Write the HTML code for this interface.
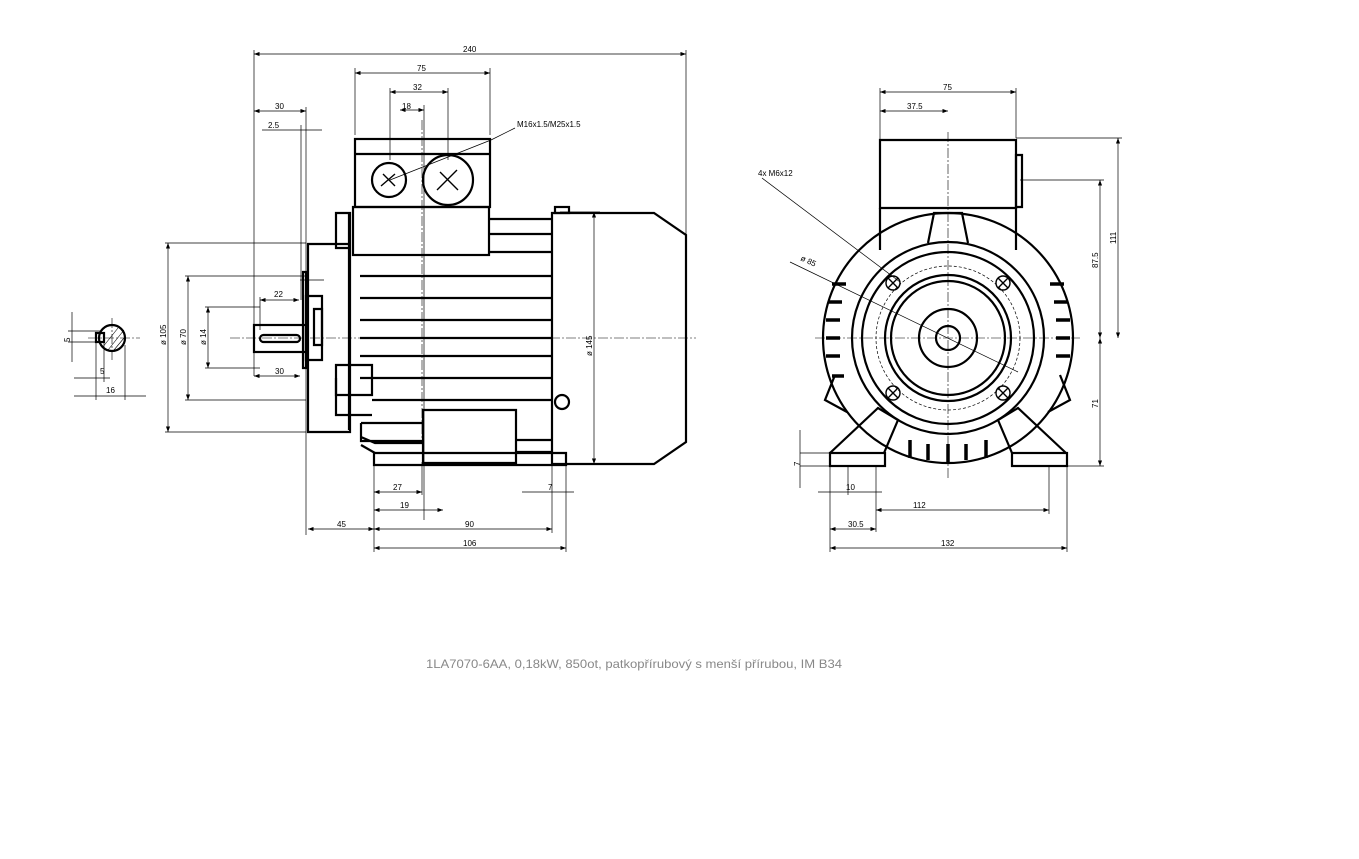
<!DOCTYPE html>
<html><head><style>
body{margin:0;background:#fff}
svg{display:block}
text{font-family:"Liberation Sans",sans-serif;font-size:8px;fill:#000}
.t{stroke:#000;stroke-width:2.2;fill:none}
.m{stroke:#000;stroke-width:1.4;fill:none}
.d{stroke:#000;stroke-width:0.7;fill:none}
.c{stroke:#000;stroke-width:0.6;fill:none;stroke-dasharray:10 2 2 2}
</style></head><body>
<svg width="1359" height="859" viewBox="0 0 1359 859">
<defs><marker id="a" markerWidth="8" markerHeight="6" refX="8" refY="3" orient="auto-start-reverse"><path d="M0,0L8,3L0,6z"/></marker></defs>
<g class="d" marker-start="url(#a)" marker-end="url(#a)">
<line x1="254" y1="54" x2="686" y2="54"/>
<line x1="355" y1="73" x2="490" y2="73"/>
<line x1="390" y1="92" x2="448" y2="92"/>
<line x1="254" y1="111" x2="306" y2="111"/>
<line x1="400" y1="110" x2="424" y2="110"/>
<line x1="880" y1="92" x2="1016" y2="92"/>
<line x1="880" y1="111" x2="948" y2="111"/>
<line x1="1118" y1="138" x2="1118" y2="338"/>
<line x1="1100" y1="180" x2="1100" y2="338"/>
<line x1="1100" y1="338" x2="1100" y2="466"/>
<line x1="168" y1="243" x2="168" y2="432"/>
<line x1="188" y1="276" x2="188" y2="400"/>
<line x1="208" y1="307" x2="208" y2="368"/>
<line x1="594" y1="212" x2="594" y2="464"/>
<line x1="260" y1="300" x2="299" y2="300"/>
<line x1="254" y1="376" x2="300" y2="376"/>
<line x1="374" y1="492" x2="422" y2="492"/>
<line x1="374" y1="510" x2="443" y2="510"/>
<line x1="308" y1="529" x2="374" y2="529"/>
<line x1="374" y1="529" x2="552" y2="529"/>
<line x1="374" y1="548" x2="566" y2="548"/>
<line x1="876" y1="510" x2="1049" y2="510"/>
<line x1="830" y1="529" x2="876" y2="529"/>
<line x1="830" y1="548" x2="1067" y2="548"/>
</g>
<g class="d">
<line x1="254" y1="50" x2="254" y2="376"/><line x1="686" y1="50" x2="686" y2="240"/>
<line x1="355" y1="68" x2="355" y2="135"/><line x1="490" y1="68" x2="490" y2="135"/>
<line x1="390" y1="88" x2="390" y2="160"/><line x1="448" y1="88" x2="448" y2="160"/>
<line x1="424" y1="105" x2="424" y2="520"/>
<line x1="306" y1="107" x2="306" y2="535"/><line x1="301" y1="125" x2="301" y2="300"/>
<line x1="262" y1="130" x2="322" y2="130"/>
<line x1="165" y1="243" x2="306" y2="243"/><line x1="185" y1="276" x2="306" y2="276"/>
<line x1="205" y1="307" x2="260" y2="307"/><line x1="205" y1="368" x2="260" y2="368"/>
<line x1="185" y1="400" x2="306" y2="400"/><line x1="165" y1="432" x2="306" y2="432"/>
<line x1="260" y1="297" x2="260" y2="330"/><line x1="300" y1="280" x2="324" y2="280"/>
<line x1="374" y1="462" x2="374" y2="552"/><line x1="422" y1="462" x2="422" y2="495"/>
<line x1="552" y1="462" x2="552" y2="533"/><line x1="566" y1="462" x2="566" y2="552"/>
<line x1="522" y1="492" x2="574" y2="492"/>
<line x1="560" y1="212" x2="600" y2="212"/>
<line x1="880" y1="88" x2="880" y2="140"/><line x1="1016" y1="88" x2="1016" y2="138"/>
<line x1="1016" y1="138" x2="1122" y2="138"/><line x1="1020" y1="180" x2="1104" y2="180"/>
<line x1="1066" y1="466" x2="1104" y2="466"/>
<line x1="830" y1="466" x2="830" y2="552"/><line x1="876" y1="466" x2="876" y2="532"/>
<line x1="848" y1="466" x2="848" y2="495"/><line x1="1049" y1="466" x2="1049" y2="514"/>
<line x1="1067" y1="466" x2="1067" y2="552"/>
<line x1="800" y1="453" x2="830" y2="453"/><line x1="800" y1="466" x2="830" y2="466"/>
<line x1="818" y1="492" x2="882" y2="492"/>
<line x1="491" y1="140" x2="515" y2="128"/><line x1="390" y1="180" x2="491" y2="140"/>
<line x1="762" y1="178" x2="900" y2="282"/>
<line x1="790" y1="262" x2="1018" y2="372"/>
<line x1="800" y1="430" x2="800" y2="488"/>
<line x1="72" y1="312" x2="72" y2="362"/><line x1="68" y1="331" x2="100" y2="331"/><line x1="68" y1="342" x2="100" y2="342"/>
<line x1="74" y1="378" x2="110" y2="378"/><line x1="74" y1="396" x2="146" y2="396"/>
<line x1="96" y1="342" x2="96" y2="400"/><line x1="104" y1="342" x2="104" y2="382"/><line x1="125" y1="345" x2="125" y2="400"/>
</g>
<g class="c">
<line x1="230" y1="338" x2="696" y2="338"/><line x1="815" y1="338" x2="1080" y2="338"/>
<line x1="948" y1="132" x2="948" y2="480"/><line x1="88" y1="338" x2="140" y2="338"/><line x1="112" y1="318" x2="112" y2="360"/>
<line x1="422" y1="120" x2="422" y2="440"/>
</g>
<g class="t">
<rect x="355" y="139" width="135" height="68"/>
<line x1="355" y1="154" x2="490" y2="154"/>
<rect x="353" y="207" width="136" height="48"/>
<path d="M349,212V255h0M349,255V430"/>
<path d="M336,213h14v35h-14zM308,244h42V432H308z"/>
<path d="M303,272h3v96h-3z"/><path d="M306,296h16v64h-16z"/><path d="M314,309h8v36h-8z"/>
<rect x="254" y="325" width="52" height="27"/>
<rect x="260" y="335" width="40" height="7" rx="3.5"/>
<path d="M336,365h36v30h-36z" /><path d="M336,378v37h36"/>
<line x1="360" y1="276" x2="552" y2="276"/><line x1="360" y1="298" x2="552" y2="298"/><line x1="360" y1="320" x2="552" y2="320"/><line x1="360" y1="338" x2="552" y2="338"/><line x1="360" y1="356" x2="552" y2="356"/><line x1="360" y1="378" x2="552" y2="378"/><line x1="372" y1="400" x2="552" y2="400"/>
<line x1="489" y1="219" x2="552" y2="219"/><line x1="489" y1="234" x2="552" y2="234"/><line x1="489" y1="252" x2="552" y2="252"/>
<path d="M552,213h102l32,22v207l-32,22H552z"/>
<rect x="555" y="207" width="14" height="6"/>
<circle cx="562" cy="402" r="7"/>
<path d="M423,410h93v53H423z"/>
<path d="M361,423h62M361,423v18h62M361,437l14,6h48M361,445l14,8"/>
<path d="M516,440h36M516,452h36"/>
<path d="M374,453h192v12H374z"/>
<circle cx="389" cy="180" r="17"/><circle cx="448" cy="180" r="25"/>
</g>
<g class="m">
<path d="M381,186l14,-12M383,174l12,12"/><path d="M437,190l20,-20M440,172l18,18"/>
</g>
<g class="t"><circle cx="112" cy="338" r="13"/><rect x="96" y="333" width="8" height="9"/></g>
<g stroke="#000" stroke-width="0.6"><line x1="102" y1="348" x2="118" y2="328"/><line x1="108" y1="350" x2="124" y2="330"/><line x1="114" y1="350" x2="124" y2="338"/></g>
<g class="t">
<path d="M880,140h136v68H880z"/><path d="M1016,155h6v52h-6z"/>
<path d="M880,208v42M1016,208v42"/>
<circle cx="948" cy="338" r="125"/>
<circle cx="948" cy="338" r="96"/>
<circle cx="948" cy="338" r="86"/>
<circle cx="948" cy="338" r="63"/>
<circle cx="948" cy="338" r="57"/>
<circle cx="948" cy="338" r="29"/>
<circle cx="948" cy="338" r="12"/>
<path d="M928,243l6,-30h28l6,30"/>
<path d="M830,453l48,-45l20,12l-14,33M1066,453l-48,-45l-20,12l14,33"/>
<rect x="830" y="453" width="55" height="13"/><rect x="1012" y="453" width="55" height="13"/>
<path d="M835,375l-10,25l22,12M1060,375l10,25l-22,12"/>
</g>
<circle cx="948" cy="338" r="72" class="d" stroke-dasharray="3 2"/>
<g class="m">
<circle cx="893" cy="283" r="7"/><circle cx="1003" cy="283" r="7"/><circle cx="893" cy="393" r="7"/><circle cx="1003" cy="393" r="7"/>
<path d="M888,278l10,10M898,278l-10,10M998,278l10,10M1008,278l-10,10M888,388l10,10M898,388l-10,10M998,388l10,10M1008,388l-10,10"/>
</g>
<g stroke="#000" stroke-width="3.5">
<line x1="828" y1="302" x2="842" y2="302"/><line x1="826" y1="320" x2="840" y2="320"/><line x1="826" y1="338" x2="840" y2="338"/><line x1="826" y1="356" x2="840" y2="356"/><line x1="832" y1="376" x2="844" y2="376"/><line x1="832" y1="284" x2="846" y2="284"/>
<line x1="1054" y1="302" x2="1068" y2="302"/><line x1="1056" y1="320" x2="1070" y2="320"/><line x1="1056" y1="338" x2="1070" y2="338"/><line x1="1056" y1="356" x2="1070" y2="356"/><line x1="1050" y1="284" x2="1064" y2="284"/>
<line x1="910" y1="440" x2="910" y2="458"/><line x1="928" y1="444" x2="928" y2="460"/><line x1="948" y1="444" x2="948" y2="462"/><line x1="966" y1="444" x2="966" y2="460"/><line x1="986" y1="440" x2="986" y2="458"/>
</g>
<text x="463" y="52">240</text><text x="417" y="71">75</text><text x="413" y="90">32</text><text x="402" y="109">18</text>
<text x="275" y="109">30</text><text x="268" y="128">2.5</text><text x="517" y="127">M16x1.5/M25x1.5</text>
<text x="274" y="297">22</text><text x="275" y="374">30</text>
<text x="393" y="490">27</text><text x="400" y="508">19</text><text x="337" y="527">45</text><text x="465" y="527">90</text><text x="463" y="546">106</text><text x="548" y="490">7</text>
<text x="943" y="90">75</text><text x="907" y="109">37.5</text><text x="758" y="176">4x M6x12</text>
<text x="913" y="508">112</text><text x="846" y="490">10</text><text x="848" y="527">30.5</text><text x="941" y="546">132</text>
<text x="100" y="374">5</text><text x="106" y="393">16</text>
<text transform="translate(166,345) rotate(-90)">ø 105</text>
<text transform="translate(186,345) rotate(-90)">ø 70</text>
<text transform="translate(206,345) rotate(-90)">ø 14</text>
<text transform="translate(592,356) rotate(-90)">ø 145</text>
<text transform="translate(1116,244) rotate(-90)">111</text>
<text transform="translate(1098,268) rotate(-90)">87.5</text>
<text transform="translate(1098,408) rotate(-90)">71</text>
<text transform="translate(800,466) rotate(-90)">7</text>
<text transform="translate(70,342) rotate(-90)">5</text>
<text transform="translate(800,260) rotate(25)">ø 85</text>
<text x="426" y="668" textLength="416" lengthAdjust="spacingAndGlyphs" style="font-size:12px;fill:#888">1LA7070-6AA,  0,18kW, 850ot, patkopřírubový s menší přírubou, IM B34</text>
</svg>
</body></html>
